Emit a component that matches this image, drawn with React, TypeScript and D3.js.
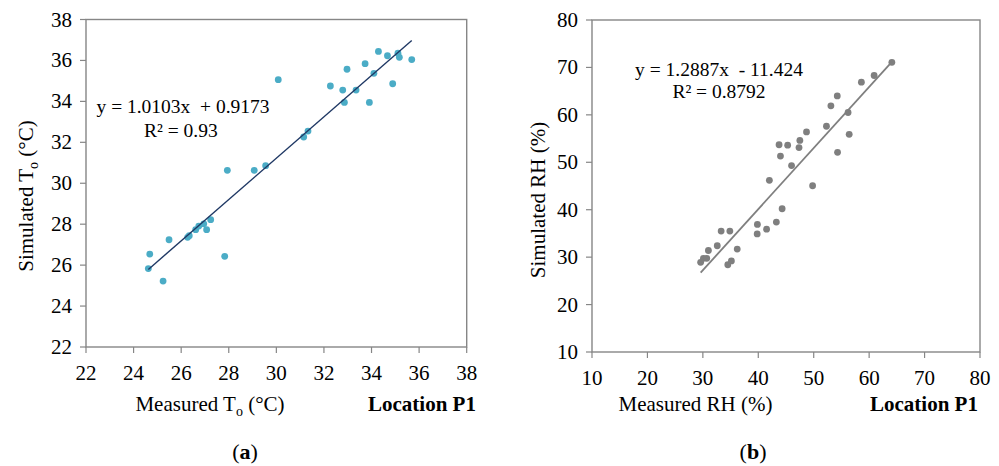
import React from "react";
import * as d3 from "d3";

// Panel (a): measured vs simulated air temperature
const measuredT = [24.62, 24.68, 25.24, 25.49, 26.27, 26.34, 26.61, 26.74, 26.95, 27.07, 27.24, 27.83, 27.94, 29.07, 29.55, 30.08, 31.15, 31.33, 32.27, 32.79, 32.86, 32.97, 33.35, 33.73, 33.91, 34.1, 34.29, 34.67, 34.89, 35.11, 35.17, 35.69];
const simulatedT = [25.83, 26.54, 25.22, 27.24, 27.36, 27.44, 27.73, 27.91, 28.02, 27.73, 28.22, 26.43, 30.63, 30.63, 30.86, 35.06, 32.26, 32.55, 34.75, 34.55, 33.95, 35.57, 34.55, 35.84, 33.95, 35.37, 36.44, 36.23, 34.86, 36.35, 36.15, 36.04];
const fitT = { slope: 1.0103, intercept: 0.9173 };
const ticksT = [22, 24, 26, 28, 30, 32, 34, 36, 38];

// Panel (b): measured vs simulated relative humidity
const measuredRH = [29.6, 30.1, 30.7, 31.0, 32.6, 33.3, 34.5, 34.87, 35.15, 36.2, 39.8, 39.84, 41.5, 42.0, 43.26, 44.3, 43.75, 44.0, 45.3, 46.0, 47.35, 47.5, 48.7, 49.8, 52.3, 53.1, 54.25, 54.3, 56.2, 56.4, 58.6, 60.9, 64.1];
const simulatedRH = [28.9, 29.75, 29.75, 31.4, 32.4, 35.5, 28.4, 35.5, 29.2, 31.7, 34.9, 36.9, 35.9, 46.2, 37.4, 40.2, 53.7, 51.3, 53.6, 49.3, 53.1, 54.6, 56.4, 45.05, 57.6, 61.9, 64.0, 52.1, 60.5, 55.9, 66.9, 68.3, 71.07];
const fitRH = { slope: 1.2887, intercept: -11.424 };
const ticksRH = [10, 20, 30, 40, 50, 60, 70, 80];

const FONT = "'Liberation Serif', 'Times New Roman', serif";
const AXIS = "#868686";

type PanelProps = {
  xs: number[];
  ys: number[];
  fit: { slope: number; intercept: number };
  ticks: number[];
  x0: number;
  x1: number;
  y0: number;
  y1: number;
  dotColor: string;
  lineColor: string;
  lineWidth: number;
  yTitle: React.ReactNode;
  xTitle: React.ReactNode;
  xTitleX: number;
  yTitleX: number;
  yTitleY: number;
  locX: number;
  eq1: string;
  eq2: string;
  eq1X: number;
  eq2X: number;
  eq1Y: number;
  eq2Y: number;
  eqAnchor: "start" | "middle";
  label: string;
  labelX: number;
};

function Panel(p: PanelProps) {
  const dom = [p.ticks[0], p.ticks[p.ticks.length - 1]];
  const x = d3.scaleLinear().domain(dom).range([p.x0, p.x1]);
  const y = d3.scaleLinear().domain(dom).range([p.y0, p.y1]);
  const xmin = d3.min(p.xs) as number;
  const xmax = d3.max(p.xs) as number;
  const line = d3.line<number>()
    .x((d) => x(d))
    .y((d) => y(p.fit.slope * d + p.fit.intercept));
  return (
    <g>
      {/* frame */}
      <rect x={p.x0} y={p.y1} width={p.x1 - p.x0} height={p.y0 - p.y1} fill="none" stroke={AXIS} strokeWidth={1.4} />
      {/* x ticks */}
      {p.ticks.map((t) => (
        <g key={"x" + t}>
          <line x1={x(t)} x2={x(t)} y1={p.y0} y2={p.y0 + 6} stroke={AXIS} strokeWidth={1.2} />
          <text x={x(t)} y={p.y0 + 33} textAnchor="middle" fontSize={21} fontFamily={FONT} fill="#000">{t}</text>
        </g>
      ))}
      {/* y ticks */}
      {p.ticks.map((t) => (
        <g key={"y" + t}>
          <line x1={p.x0 - 6} x2={p.x0} y1={y(t)} y2={y(t)} stroke={AXIS} strokeWidth={1.2} />
          <text x={p.x0 - 14} y={y(t) + 7} textAnchor="end" fontSize={21} fontFamily={FONT} fill="#000">{t}</text>
        </g>
      ))}
      {/* points */}
      {p.xs.map((v, i) => (
        <circle key={i} cx={x(v)} cy={y(p.ys[i])} r={3.4} fill={p.dotColor} />
      ))}
      {/* trend line */}
      <path d={line([xmin, xmax]) as string} fill="none" stroke={p.lineColor} strokeWidth={p.lineWidth} />
      {/* equation */}
      <text x={p.eq1X} y={p.eq1Y} textAnchor={p.eqAnchor} fontSize={19.5} fontFamily={FONT} fill="#000" style={{ whiteSpace: "pre" }}>{p.eq1}</text>
      <text x={p.eq2X} y={p.eq2Y} textAnchor={p.eqAnchor} fontSize={19.5} fontFamily={FONT} fill="#000" style={{ whiteSpace: "pre" }}>{p.eq2}</text>
      {/* axis titles */}
      <text x={p.xTitleX} y={411} textAnchor="middle" fontSize={21} fontFamily={FONT} fill="#000">{p.xTitle}</text>
      <text x={p.locX} y={411} textAnchor="start" fontSize={21} fontWeight="bold" fontFamily={FONT} fill="#000">Location P1</text>
      <text transform={`translate(${p.yTitleX},${p.yTitleY}) rotate(-90)`} textAnchor="middle" fontSize={21} fontFamily={FONT} fill="#000">{p.yTitle}</text>
      {/* panel label */}
      <text x={p.labelX} y={459} textAnchor="middle" fontSize={22} fontFamily={FONT} fill="#000">
        (<tspan fontWeight="bold">{p.label}</tspan>)
      </text>
    </g>
  );
}

export default function App() {
  return (
    <svg width={999} height={466} style={{ position: "absolute", left: 0, top: 0, background: "#fff" }}>
      <Panel
        xs={measuredT}
        ys={simulatedT}
        fit={fitT}
        ticks={ticksT}
        x0={86}
        x1={466.7}
        y0={347}
        y1={19.5}
        dotColor="#4bacc6"
        lineColor="#1f3864"
        lineWidth={1.4}
        xTitle={<>Measured T<tspan fontSize={14} dy={5}>o</tspan><tspan dy={-5}> (°C)</tspan></>}
        yTitle={<>Simulated T<tspan fontSize={14} dy={5}>o</tspan><tspan dy={-5}> (°C)</tspan></>}
        xTitleX={210}
        yTitleX={33}
        yTitleY={196}
        locX={368}
        eq1={"y = 1.0103x  + 0.9173"}
        eq2={"R² = 0.93"}
        eq1X={96.5}
        eq2X={144}
        eq1Y={113}
        eq2Y={137}
        eqAnchor="start"
        label="a"
        labelX={245}
      />
      <Panel
        xs={measuredRH}
        ys={simulatedRH}
        fit={fitRH}
        ticks={ticksRH}
        x0={592}
        x1={980}
        y0={352}
        y1={20}
        dotColor="#7f7f7f"
        lineColor="#7f7f7f"
        lineWidth={1.8}
        xTitle={<>Measured RH (%)</>}
        yTitle={<>Simulated RH (%)</>}
        xTitleX={695.5}
        yTitleX={545}
        yTitleY={200}
        locX={870}
        eq1={"y = 1.2887x  - 11.424"}
        eq2={"R² = 0.8792"}
        eq1X={719}
        eq2X={719}
        eq1Y={76}
        eq2Y={98}
        eqAnchor="middle"
        label="b"
        labelX={753}
      />
    </svg>
  );
}
